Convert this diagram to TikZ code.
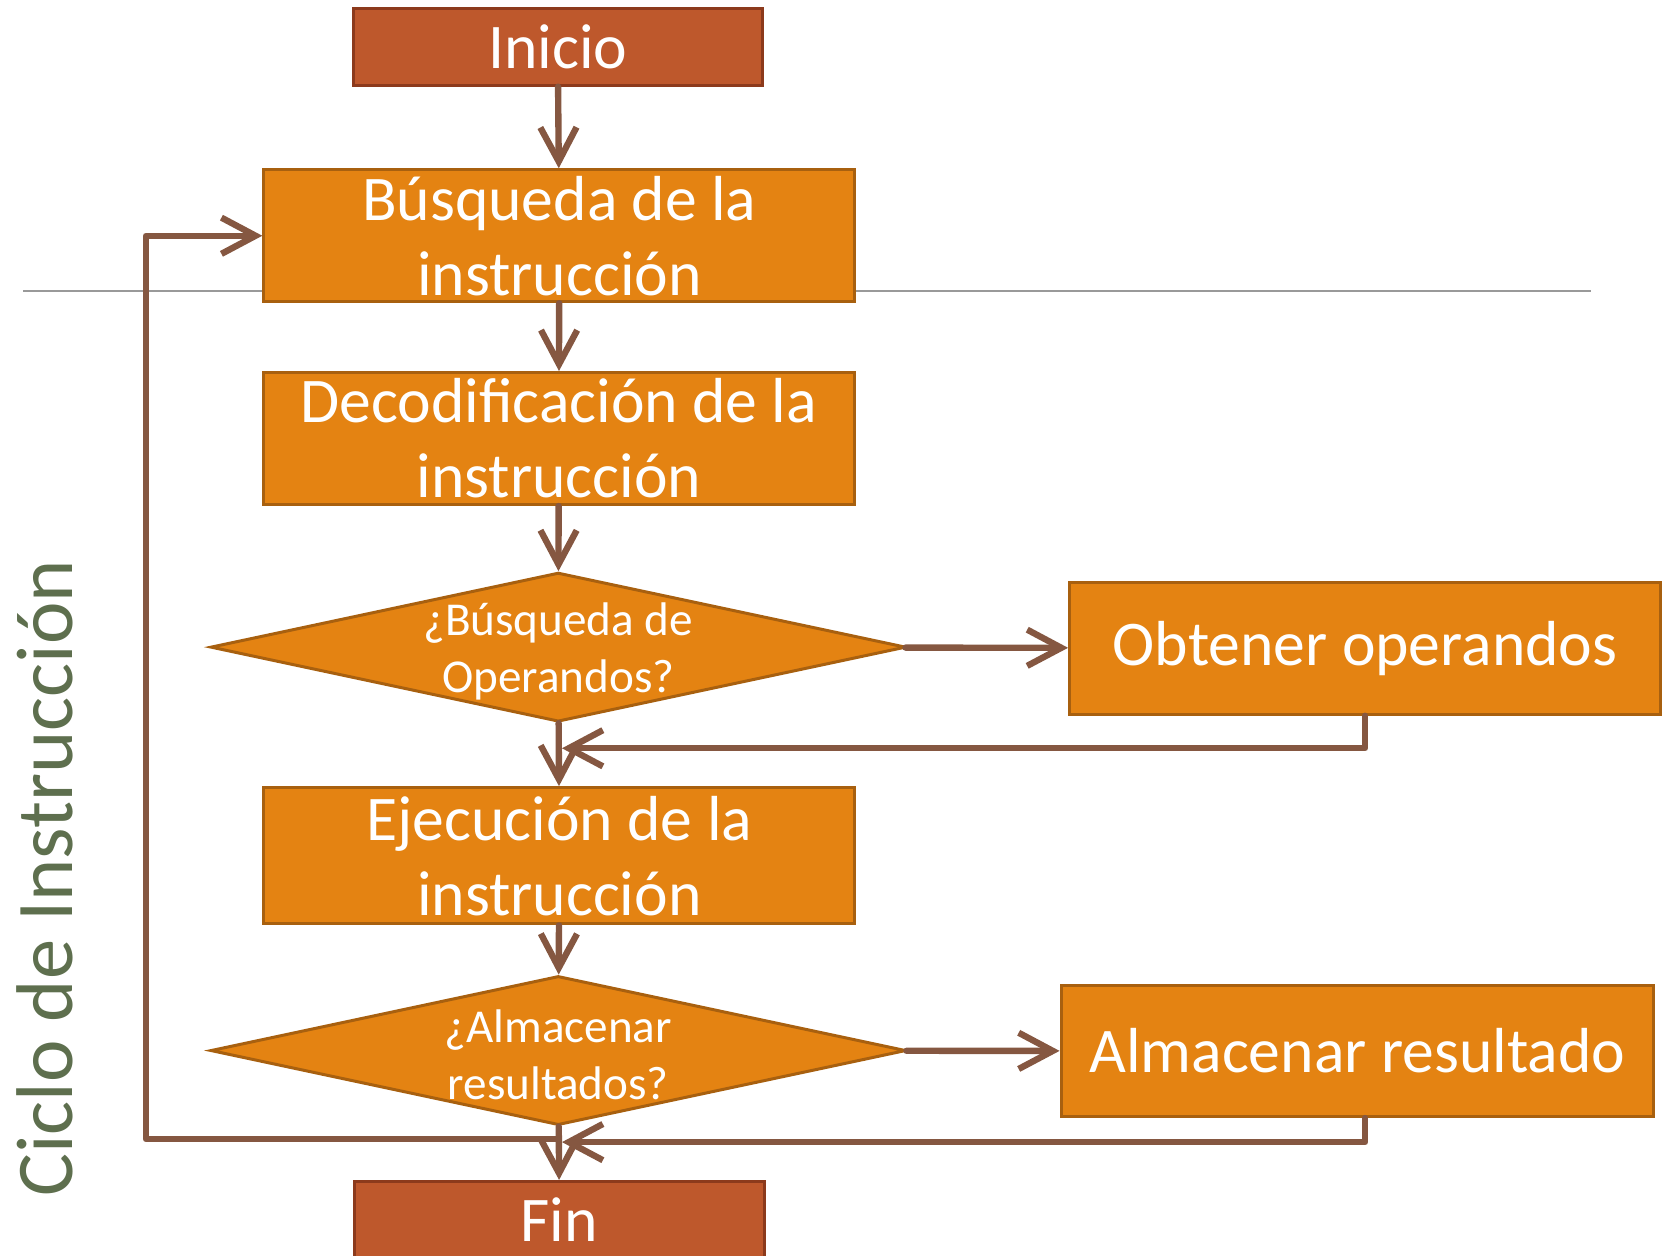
\documentclass[tikz,border=0pt]{standalone}
\usepackage{fontspec}
\setmainfont{Carlito}
\usetikzlibrary{shapes.geometric,arrows.meta}
\definecolor{termfill}{RGB}{190,88,44}
\definecolor{termline}{RGB}{140,58,28}
\definecolor{procfill}{RGB}{228,131,18}
\definecolor{procline}{RGB}{168,96,15}
\definecolor{connbrown}{RGB}{133,87,65}
\definecolor{titlegreen}{RGB}{94,111,78}
\begin{document}
\begin{tikzpicture}[x=0.01cm,y=-0.01cm,
        proc/.style={rectangle,draw=procline,fill=procfill,line width=0.8pt,
            text=white,minimum width=5.55cm,minimum height=1.24cm,inner sep=0pt,
            align=center,font=\fontsize{17}{20}\selectfont},
        term/.style={proc,draw=termline,fill=termfill,minimum width=3.84cm,
            minimum height=0.72cm},
        decision/.style={diamond,draw=procline,fill=procfill,line width=0.8pt,
            minimum width=6.53cm,minimum height=1.40cm,inner sep=0pt},
        decisiontext/.style={text=white,align=center,inner sep=0pt,yshift=-0.04cm,
            font=\fontsize{12.6}{15}\selectfont},
        conn/.style={draw=connbrown,line width=1.7pt,line cap=round,line join=round,
            -{Straight Barb[length=3.2mm,width=3.4mm]}}]
\useasboundingbox (0,0) rectangle (1568,1180);

\draw[gray!80,line width=0.5pt] (22,273) -- (1495,273);

\node[term] (inicio) at (524,44) {Inicio};
\node[proc] (busq) at (525.5,221.5) {Búsqueda de la\\instrucción};
\node[proc] (decod) at (525,412) {Decodificación de la\\instrucción};
\node[decision,label={[decisiontext]center:¿Búsqueda de\\Operandos?}] (opq) at (524.5,608) {};
\node[proc] (obt) at (1282.5,609) {Obtener operandos};
\node[proc,minimum height=1.28cm] (ejec) at (525.5,804) {Ejecución de la\\instrucción};
\node[decision,label={[decisiontext]center:¿Almacenar\\resultados?}] (almq) at (524.5,987) {};
\node[proc,minimum width=5.56cm,minimum height=1.23cm] (alm) at (1275,987.5) {Almacenar resultado};
\node[term,minimum width=3.85cm] (fin) at (525.5,1146) {Fin};
\node[rotate=90,text=titlegreen,font=\fontsize{21.5}{24}\selectfont] (titulo) at (42,825) {Ciclo de Instrucción};

\draw[conn] (inicio) -- (busq);
\draw[conn] (busq) -- (decod);
\draw[conn] (decod) -- (opq);
\draw[conn] (opq) -- (obt);
\draw[conn] (opq) -- (ejec);
\draw[conn] (ejec) -- (almq);
\draw[conn] (almq) -- (alm);
\draw[conn] (almq) -- (fin);

% retornos
\coordinate (opjoin) at (528,703);
\draw[conn] (obt.south) |- (opjoin);
\coordinate (almjoin) at (528,1073);
\draw[conn] (alm.south -| obt.south) |- (almjoin);
\coordinate (loopstart) at (524,1070);
\coordinate (loopcorner) at (137,1070);
\draw[conn] (loopstart) -- (loopcorner) |- (busq.west);

\end{tikzpicture}
\end{document}
